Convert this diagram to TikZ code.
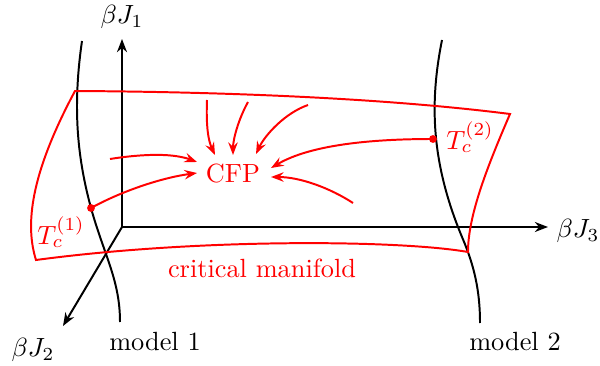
\documentclass[tikz,border=0pt]{standalone}
\usetikzlibrary{arrows.meta}
\begin{document}
\begin{tikzpicture}[x=0.38pt,y=-0.38pt,
  axis/.style={black,line width=0.75pt,-{Stealth[length=5pt,width=3.8pt,inset=1.6pt]}},
  model/.style={black,line width=0.75pt},
  manifold/.style={red,line width=0.75pt,line join=miter},
  flow/.style={red,line width=0.75pt,-{Stealth[length=4.8pt,width=3.6pt,inset=1.7pt]}},
  lbl/.style={inner sep=0pt},
  rlbl/.style={inner sep=0pt,text=red},
  pt/.style={circle,fill=red,inner sep=0pt,minimum size=3pt}]
\useasboundingbox (0,0) rectangle (600,366);
% axes
\coordinate (O) at (122,227);
\coordinate (J1) at (122,39);
\coordinate (J3) at (548,227);
\coordinate (J2) at (63,326);
\draw[axis] (O) -- (J1);
\draw[axis] (O) -- (J3);
\draw[axis] (O) -- (J2);
\node[lbl] (lJ1) at (122,17) {$\beta J_1$};
\node[lbl] (lJ3) at (578,231) {$\beta J_3$};
\node[lbl] (lJ2) at (33,350) {$\beta J_2$};
% model curves
\draw[model] (82,41) .. controls (72,110) and (78,160) .. (91,208)
  .. controls (104,255) and (120,280) .. (120,322);
\draw[model] (442,40) .. controls (430,100) and (430,160) .. (462,237)
  .. controls (474,265) and (480,290) .. (480,323);
\node[lbl] (m1) at (155,342) {model 1};
\node[lbl] (m2) at (515,342) {model 2};
% critical manifold
\draw[manifold] (75,91) .. controls (250,92) and (400,100) .. (510,114)
  .. controls (488,165) and (468,215) .. (468,252)
  .. controls (400,240) and (200,238) .. (36,260)
  .. controls (25,225) and (30,175) .. (75,91) -- cycle;
\node[rlbl] (cm) at (262,268) {critical manifold};
% points
\node[pt] (T1) at (91,208) {};
\node[pt] (T2) at (433,139) {};
\node[rlbl] (lT1) at (61,232) {$T_c^{(1)}$};
\node[rlbl] (lT2) at (470,137) {$T_c^{(2)}$};
\node[rlbl] (cfp) at (233,174) {CFP};
% flow arrows
\coordinate (s1) at (110,159); \coordinate (e1) at (197,162);
\coordinate (e2) at (197,173);
\coordinate (s3) at (207,100); \coordinate (e3) at (215,155);
\coordinate (s4) at (248,102); \coordinate (e4) at (233,155);
\coordinate (s5) at (308,105); \coordinate (e5) at (256,154);
\coordinate (e6) at (271,168);
\coordinate (s7) at (353,203); \coordinate (e7) at (271,177);
\draw[flow] (s1) .. controls (135,155) and (170,152) .. (e1);
\draw[flow] (T1.center) .. controls (120,192) and (160,178) .. (e2);
\draw[flow] (s3) .. controls (206,125) and (208,140) .. (e3);
\draw[flow] (s4) .. controls (238,120) and (233,140) .. (e4);
\draw[flow] (s5) .. controls (285,113) and (265,135) .. (e5);
\draw[flow] (T2.center) .. controls (370,139) and (310,145) .. (e6);
\draw[flow] (s7) .. controls (330,188) and (300,177) .. (e7);
\end{tikzpicture}
\end{document}
